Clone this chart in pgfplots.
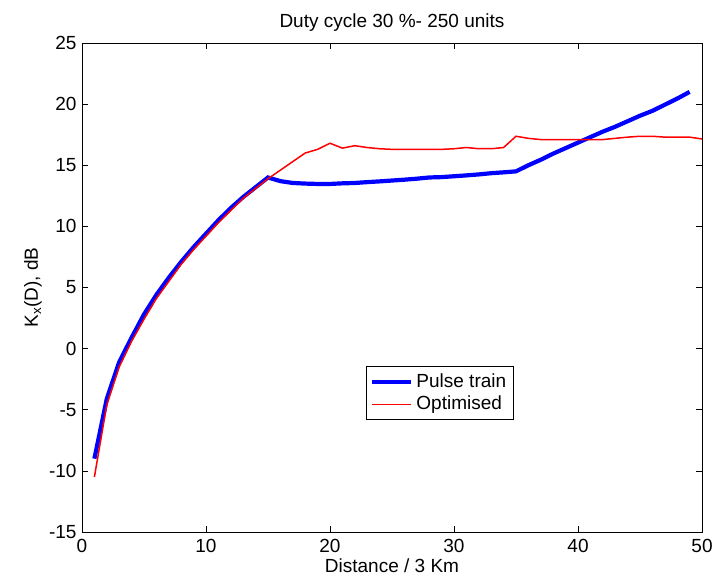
\documentclass[border=0pt]{standalone}
\usepackage{pgfplots}
\pgfplotsset{compat=1.18}
\usepackage{fontspec}
\setmainfont{Liberation Sans}
\begin{document}
\fontsize{19bp}{22bp}\selectfont
\begin{tikzpicture}
\useasboundingbox (-82bp,-46bp) rectangle (630bp,532bp);
\begin{axis}[
  at={(0,0)}, anchor=south west,
  scale only axis,
  width=620bp, height=489bp,
  xmin=0, xmax=50, ymin=-15, ymax=25,
  xtick={0,10,...,50}, ytick={-15,-10,...,25},
  tick align=inside,
  major tick length=6bp,
  axis line style={line width=0.8pt},
  tick style={line width=0.6pt, black},
  /pgf/number format/assume math mode=true,
  ticklabel style={font=\fontsize{19bp}{22bp}\selectfont},
  xticklabel style={yshift=-1bp},
  yticklabel style={xshift=1bp},
  title={Duty cycle 30 \%- 250 units},
  title style={font=\fontsize{19bp}{22bp}\selectfont, at={(axis description cs:0.5,1)}, anchor=center, yshift=14bp},
  xlabel={Distance / 3 Km},
  ylabel={K$_{\mathrm{x}}$(D), dB},
  xlabel style={font=\fontsize{19bp}{22bp}\selectfont, at={(axis description cs:0.5,0)}, anchor=center, yshift=-34bp},
  ylabel style={font=\fontsize{19bp}{22bp}\selectfont, at={(axis description cs:-0.079,0.5)}, anchor=center},
  legend style={at={(0.458,0.339)}, anchor=north west, draw=black, line width=0.6pt,
    font=\fontsize{19bp}{22bp}\selectfont, inner xsep=4bp, inner ysep=6bp,
    nodes={inner xsep=3bp, inner ysep=1bp}, row sep=4bp},
  legend image code/.code={\draw[#1] (0bp,0bp) -- (39bp,0bp);},
  legend cell align=left,
]
\addplot[color=blue, line width=4.2bp] coordinates {
(1,-9.0) (2,-4.1) (3,-1.1) (4,0.9) (5,2.8) (6,4.4) (7,5.8) (8,7.1) (9,8.3) (10,9.4)
(11,10.5) (12,11.5) (13,12.4) (14,13.2) (15,14.0) (16,13.7) (17,13.55) (18,13.5)
(19,13.47) (20,13.47) (21,13.52) (22,13.55) (23,13.62) (24,13.68) (25,13.75)
(26,13.82) (27,13.9) (28,14.0) (29,14.03) (30,14.1) (31,14.17) (32,14.25) (33,14.35)
(34,14.42) (35,14.5) (36,15.0) (37,15.45) (38,15.95) (39,16.4) (40,16.85) (41,17.3)
(42,17.75) (43,18.15) (44,18.6) (45,19.05) (46,19.45) (47,19.95) (48,20.45) (49,21.0)
};
\addlegendentry{Pulse train}
\addplot[color=red, line width=1.5bp] coordinates {
(1,-10.5) (2,-4.6) (3,-1.5) (4,0.6) (5,2.4) (6,4.1) (7,5.5) (8,6.9) (9,8.1) (10,9.2)
(11,10.3) (12,11.3) (13,12.3) (14,13.1) (15,13.9) (16,14.6) (17,15.3) (18,16.0)
(19,16.3) (20,16.8) (21,16.4) (22,16.6) (23,16.45) (24,16.35) (25,16.3) (26,16.3)
(27,16.3) (28,16.3) (29,16.3) (30,16.35) (31,16.45) (32,16.35) (33,16.35) (34,16.45)
(35,17.37) (36,17.2) (37,17.1) (38,17.1) (39,17.1) (40,17.1) (41,17.1) (42,17.1)
(43,17.2) (44,17.3) (45,17.37) (46,17.37) (47,17.3) (48,17.3) (49,17.3) (50,17.15)
};
\addlegendentry{Optimised}
\end{axis}
\end{tikzpicture}
\end{document}
